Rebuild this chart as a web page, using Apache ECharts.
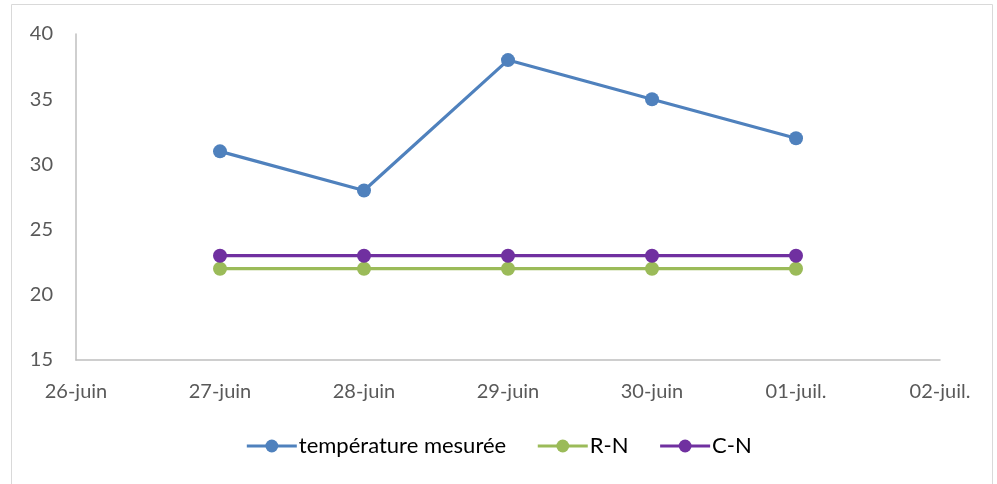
<!DOCTYPE html>
<html><head><meta charset="utf-8">
<script src="https://cdn.jsdelivr.net/npm/echarts@6/dist/echarts.min.js"></script>
<style>html,body{margin:0;padding:0;background:#fff}#c{width:997px;height:484px}</style>
</head><body><div id="c"></div>
<script>
const categories = ['26-juin','27-juin','28-juin','29-juin','30-juin','01-juil.','02-juil.'];
const tempMesuree = [null, 31, 28, 38, 35, 32, null];
const rn = [null, 22, 22, 22, 22, 22, null];
const cn = [null, 23, 23, 23, 23, 23, null];
const seriesNames = ['température mesurée','R-N','C-N'];
const colors = ['#4F81BD','#9BBB59','#7030A0'];

const chart = echarts.init(document.getElementById('c'));
const mk = (name, data, color) => ({
  name, type:'line', data, color,
  symbol:'circle', symbolSize:14,
  lineStyle:{width:3.2, color}, itemStyle:{color},
  connectNulls:false, animation:false
});
chart.setOption({
  animation:false,
  graphic:[{type:'rect', shape:{x:11.5,y:4.5,width:981,height:500}, style:{fill:'none', stroke:'#D9D9D9', lineWidth:1}, silent:true}],
  grid:{left:76, right:57, top:34, bottom:124, containLabel:false},
  legend:{
    bottom:22, left:'center', itemWidth:50, itemHeight:16, itemGap:30,
    lineStyle:{width:3.2},
    textStyle:{fontFamily:'Lato', fontSize:22, color:'#000', padding:[0,0,0,-3]},
    data:seriesNames
  },
  xAxis:{
    type:'category', data:categories, boundaryGap:false,
    axisLine:{lineStyle:{color:'#BFBFBF', width:1.5}},
    axisTick:{show:false},
    axisLabel:{color:'#595959', fontFamily:'Lato', fontSize:20, margin:22, interval:0}
  },
  yAxis:{
    type:'value', min:15, max:40, interval:5,
    axisLine:{show:true, lineStyle:{color:'#BFBFBF', width:1.5}},
    axisTick:{show:false}, splitLine:{show:false},
    axisLabel:{color:'#595959', fontFamily:'Lato', fontSize:20, margin:23}
  },
  series:[mk(seriesNames[0], tempMesuree, colors[0]), mk(seriesNames[1], rn, colors[1]), mk(seriesNames[2], cn, colors[2])]
});
</script></body></html>
